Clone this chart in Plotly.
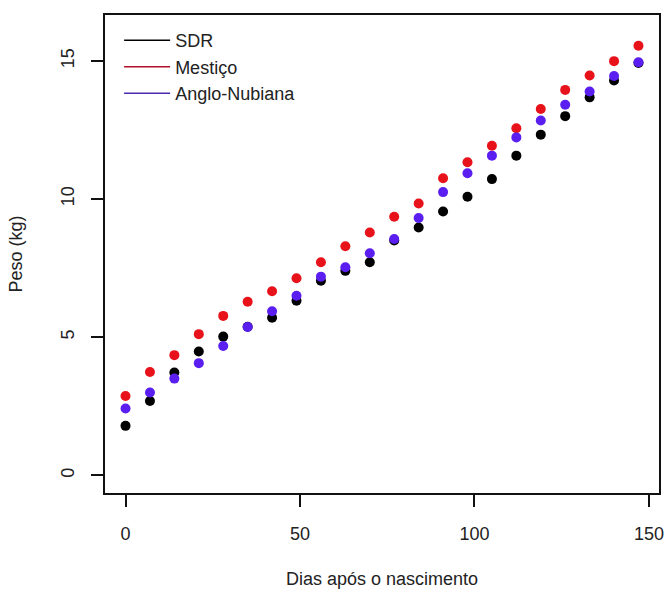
import plotly.graph_objects as go

days = [0, 7, 14, 21, 28, 35, 42, 49, 56, 63, 70, 77, 84, 91, 98, 105, 112, 119, 126, 133, 140, 147]
sdr = [1.79, 2.69, 3.72, 4.48, 5.02, 5.38, 5.70, 6.32, 7.04, 7.40, 7.71, 8.50, 8.97, 9.55,
       10.08, 10.72, 11.57, 12.33, 13.00, 13.68, 14.29, 14.92]
mestico = [2.87, 3.74, 4.35, 5.11, 5.77, 6.28, 6.66, 7.13, 7.71, 8.29, 8.79, 9.36, 9.84, 10.75,
           11.33, 11.93, 12.56, 13.26, 13.95, 14.47, 14.99, 15.55]
anglo = [2.42, 3.00, 3.50, 4.06, 4.68, 5.37, 5.94, 6.50, 7.19, 7.53, 8.04, 8.55, 9.31, 10.25,
         10.93, 11.57, 12.23, 12.84, 13.41, 13.89, 14.45, 14.95]

series_names = ["SDR", "Mestiço", "Anglo-Nubiana"]
series_vals = [sdr, mestico, anglo]
colors = ["#000000", "#e8121a", "#5a1ef0"]
legend_colors = ["#000000", "#b0102a", "#4a2ab0"]
x_ticks = [0, 50, 100, 150]
y_ticks = [0, 5, 10, 15]

FONT = "Liberation Sans, Arial, sans-serif"
TXT = "#222222"

fig = go.Figure()
for name, vals, c in zip(series_names, series_vals, colors):
    fig.add_trace(go.Scatter(x=days, y=vals, mode="markers", name=name,
                             marker=dict(color=c, size=10, line=dict(width=0)),
                             showlegend=False))
for name, c in zip(series_names, legend_colors):
    fig.add_trace(go.Scatter(x=[None], y=[None], mode="lines", name=name,
                             line=dict(color=c, width=1.5), showlegend=True))

axis_common = dict(showline=True, linecolor="#111111", linewidth=1.5, mirror=True,
                   ticks="outside", ticklen=12, tickwidth=1.5, tickcolor="#111111",
                   showgrid=False, zeroline=False, automargin=False,
                   tickfont=dict(family=FONT, size=18, color=TXT))

fig.update_layout(
    width=667, height=590,
    paper_bgcolor="white", plot_bgcolor="white",
    margin=dict(l=105, r=8, t=15, b=97, autoexpand=False),
    font=dict(family=FONT, size=18, color=TXT),
    xaxis=dict(range=[-5.88, 152.88], tickvals=x_ticks, ticklabelstandoff=12,
               title=dict(text="Dias após o nascimento", standoff=29,
                          font=dict(family=FONT, size=18, color=TXT)),
               **axis_common),
    yaxis=dict(range=[-0.64, 16.66], tickvals=y_ticks, tickangle=-90, ticklabelstandoff=10,
               title=dict(text="Peso (kg)", standoff=31,
                          font=dict(family=FONT, size=18, color=TXT)),
               **axis_common),
    legend=dict(x=0.0255, y=0.985, xanchor="left", yanchor="top",
                bgcolor="rgba(0,0,0,0)", borderwidth=0, itemwidth=46,
                font=dict(family=FONT, size=18, color=TXT), tracegroupgap=0),
    showlegend=True,
)

fig.write_html("out.html", config={"displayModeBar": False},
               post_script="document.body.style.margin='0';document.body.style.padding='0';")
